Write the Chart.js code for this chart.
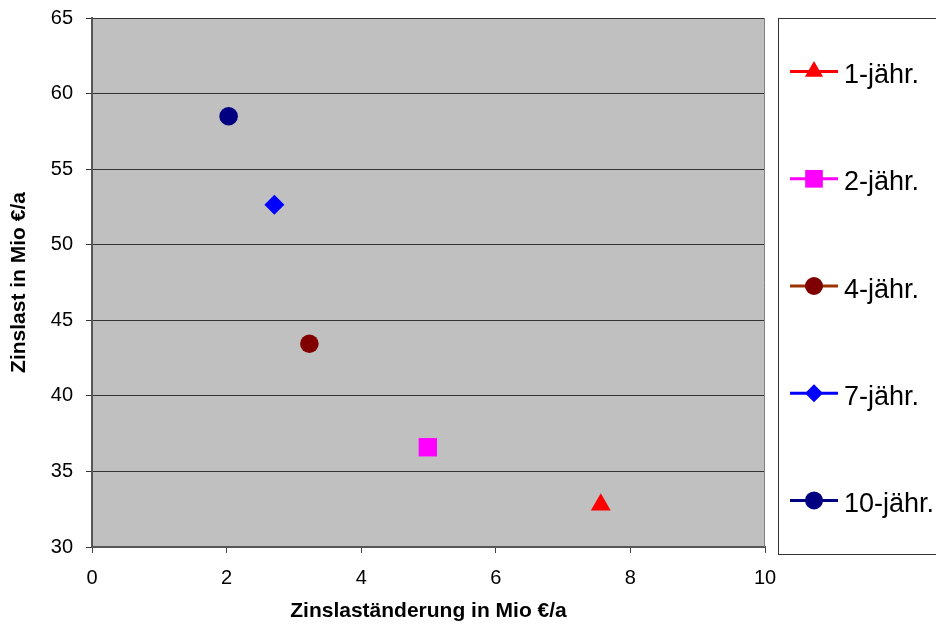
<!DOCTYPE html>
<html lang="de">
<head>
<meta charset="UTF-8">
<title>Zinslast und Zinslaständerung</title>
<script src="https://cdn.jsdelivr.net/npm/chart.js"></script>
<style>
  body { margin: 0; background: #fff; }
  #wrap { width: 936px; height: 625px; position: relative; }
</style>
</head>
<body>
<div id="wrap"><canvas id="chart"></canvas></div>
<script>
const laufzeiten = ['1-jähr.', '2-jähr.', '4-jähr.', '7-jähr.', '10-jähr.'];
const zinslastAenderung = [7.56, 4.99, 3.23, 2.71, 2.03];
const zinslast = [32.8, 36.6, 43.45, 52.65, 58.5];
const xTicks = [0, 2, 4, 6, 8, 10];
const yTicks = [30, 35, 40, 45, 50, 55, 60, 65];

// Darstellung
const markerFarben = ['#FF0000', '#FF00FF', '#800000', '#0000FF', '#000080'];
const linienFarben = ['#FF0000', '#FF00FF', '#993300', '#0000FF', '#000080'];
const markerFormen = ['triangle', 'rect', 'circle', 'rectRot', 'circle'];
const markerGroesse = [11.5, 13, 9.3, 10, 9.3];
const legendeGroesse = [10.5, 12.5, 9, 9, 9];

const schrift = "'Liberation Sans', Arial, sans-serif";

// grauer Hintergrund der Zeichenfläche + rechter Rand
const flaeche = {
  id: 'flaeche',
  beforeDraw(chart) {
    const a = chart.chartArea, ctx = chart.ctx;
    ctx.save();
    ctx.fillStyle = '#C0C0C0';
    ctx.fillRect(a.left, a.top, a.right - a.left, a.bottom - a.top);
    ctx.restore();
  },
  afterDraw(chart) {
    const a = chart.chartArea, ctx = chart.ctx;
    ctx.save();
    ctx.strokeStyle = '#808080';
    ctx.lineWidth = 1;
    ctx.beginPath();
    ctx.moveTo(Math.round(a.right) - 0.5, a.top);
    ctx.lineTo(Math.round(a.right) - 0.5, a.bottom);
    ctx.stroke();
    ctx.restore();
  }
};

// Legende im Kasten rechts
const legende = {
  id: 'legende',
  afterDraw(chart) {
    const ctx = chart.ctx;
    const top = 18, bottom = 554, left = 778;
    ctx.save();
    ctx.fillStyle = '#fff';
    ctx.fillRect(left + 0.5, top + 0.5, 200, bottom - top);
    ctx.strokeStyle = '#333';
    ctx.lineWidth = 1;
    ctx.strokeRect(left + 0.5, top + 0.5, 200, bottom - top);
    const step = (bottom - top) / chart.data.datasets.length;
    chart.data.datasets.forEach((ds, i) => {
      const y = top + step * (i + 0.5);
      ctx.strokeStyle = ds.borderColor;
      ctx.lineWidth = 3;
      ctx.beginPath();
      ctx.moveTo(790, y);
      ctx.lineTo(838, y);
      ctx.stroke();
      ctx.fillStyle = ds.backgroundColor;
      Chart.helpers.drawPoint(ctx, {
        pointStyle: ds.pointStyle, radius: legendeGroesse[i], rotation: 0, borderWidth: 0
      }, 814, y);
      ctx.fillStyle = '#000';
      ctx.font = '27px ' + schrift;
      ctx.textBaseline = 'alphabetic';
      ctx.textAlign = 'left';
      ctx.fillText(ds.label, 844, y + 11.5);
    });
    ctx.restore();
  }
};

const datasets = laufzeiten.map((name, i) => ({
  label: name,
  data: [{ x: zinslastAenderung[i], y: zinslast[i] }],
  pointStyle: markerFormen[i],
  pointRadius: markerGroesse[i],
  pointHoverRadius: markerGroesse[i],
  backgroundColor: markerFarben[i],
  borderColor: linienFarben[i],
  pointBorderWidth: 0,
  showLine: false
}));

new Chart(document.getElementById('chart'), {
  type: 'scatter',
  data: { datasets: datasets },
  plugins: [flaeche, legende],
  options: {
    responsive: true,
    maintainAspectRatio: false,
    animation: false,
    layout: { padding: { top: 18, right: 171, bottom: 0, left: 0 } },
    plugins: {
      legend: { display: false },
      tooltip: { enabled: false }
    },
    scales: {
      x: {
        type: 'linear',
        min: 0,
        max: 10,
        afterBuildTicks: s => { s.ticks = xTicks.map(v => ({ value: v })); },
        afterFit: s => { s.height = 78; s.paddingLeft = 0; s.paddingRight = 0; },
        grid: { drawOnChartArea: false, drawTicks: true, tickLength: 6, color: '#444' },
        border: { color: '#555', width: 2 },
        ticks: { color: '#000', font: { family: schrift, size: 20 }, padding: 13, maxRotation: 0 },
        title: {
          display: true,
          text: 'Zinslaständerung in Mio €/a',
          color: '#000',
          font: { family: schrift, size: 21, weight: 'bold' },
          padding: { top: 0, bottom: 1 }
        }
      },
      y: {
        type: 'linear',
        min: 30,
        max: 65,
        afterBuildTicks: s => { s.ticks = yTicks.map(v => ({ value: v })); },
        afterFit: s => { s.width = 92; s.paddingTop = 0; s.paddingBottom = 0; },
        grid: { color: '#333', lineWidth: 1, drawTicks: true, tickLength: 6 },
        border: { color: '#555', width: 2 },
        ticks: { color: '#000', font: { family: schrift, size: 20 }, padding: 13 },
        title: {
          display: true,
          text: 'Zinslast in Mio €/a',
          color: '#000',
          font: { family: schrift, size: 21, weight: 'bold' },
          padding: { top: 7, bottom: 0 }
        }
      }
    }
  }
});
</script>
</body>
</html>
